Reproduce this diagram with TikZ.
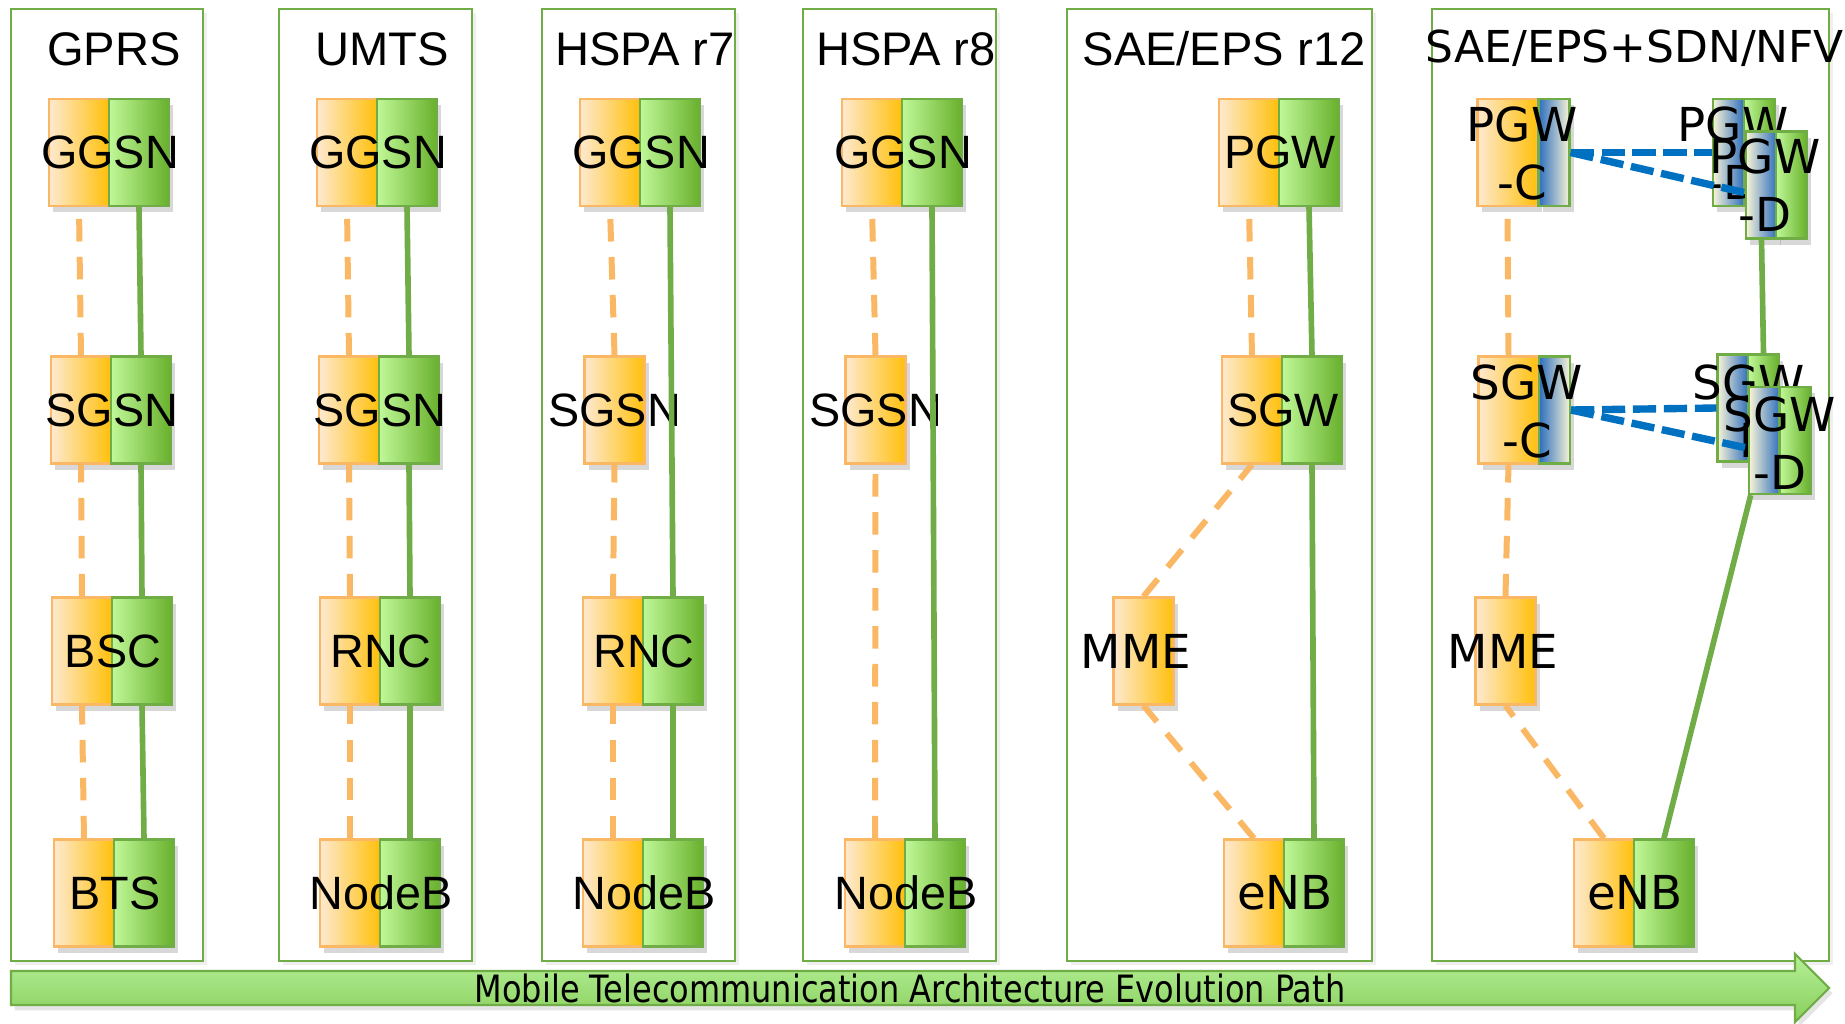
\documentclass[tikz,border=0pt]{standalone}
\usepackage{fontspec}
\setmainfont{Liberation Sans}
\newfontfamily\dvsans{DejaVu Sans}
\newfontfamily\dvnarrow[FakeStretch=0.85]{DejaVu Sans}
\usetikzlibrary{shadows}

\definecolor{frgreen}{RGB}{112,173,71}
\definecolor{orlight}{RGB}{254,233,208}
\definecolor{ordark}{RGB}{255,192,10}
\definecolor{orline}{RGB}{250,184,100}
\definecolor{grlight}{RGB}{192,248,152}
\definecolor{grdark}{RGB}{104,176,44}
\definecolor{sdnblue}{RGB}{46,110,190}
\definecolor{sdncream}{RGB}{248,244,214}
\definecolor{linkblue}{RGB}{0,112,192}
\definecolor{arlight}{RGB}{182,240,152}
\definecolor{ardark}{RGB}{136,206,92}

\begin{document}
\begin{tikzpicture}[x=0.01cm,y=-0.01cm,
  genbox/.style={draw=frgreen,line width=0.6pt,fill=white,drop shadow={shadow xshift=1pt,shadow yshift=-1pt,opacity=0.12}},
  gentitle/.style={font=\fontsize{13.4}{16}\selectfont,inner sep=0,anchor=base},
  half/.style={rectangle,inner sep=0,minimum width=0.6cm,minimum height=1.07cm,line width=0.6pt,drop shadow={shadow xshift=1.2pt,shadow yshift=-1.8pt,opacity=0.3}},
  cbox/.style={half,draw=orline,left color=orlight,right color=ordark},
  ubox/.style={half,draw=frgreen,left color=grlight,right color=grdark},
  sdnc/.style={half,minimum width=0.31cm,draw=frgreen,left color=sdnblue,right color=sdncream},
  sdnd/.style={half,minimum width=0.31cm,draw=frgreen,left color=sdncream,right color=sdnblue},
  sdnu/.style={ubox,minimum width=0.31cm},
  lbl/.style={font=\fontsize{13.3}{16.5}\selectfont,inner sep=0},
  dvlbl/.style={inner sep=0,font=\dvsans\fontsize{13.3}{16.5}\selectfont,align=center},
  cline/.style={draw=orline,line width=1.7pt,dash pattern=on 6.4pt off 4.4pt},
  uline/.style={draw=frgreen,line width=1.6pt},
  sdnline/.style={draw=linkblue,line width=2.1pt,dash pattern=on 6.6pt off 2.2pt}]

  \path[use as bounding box,fill=white] (0,0) rectangle (1845,1024);

  % generation frames
  \draw[genbox] (11,9) rectangle (203,961);
  \draw[genbox] (279,9) rectangle (472,961);
  \draw[genbox] (542,9) rectangle (735,961);
  \draw[genbox] (803,9) rectangle (996,961);
  \draw[genbox] (1067,9) rectangle (1372,961);
  \draw[genbox] (1432,9) rectangle (1829,961);

  \node[gentitle] (tgprs) at (114,65) {GPRS};
  \node[gentitle] (tumts) at (382,65) {UMTS};
  \node[gentitle] (tr7) at (645,65) {HSPA r7};
  \node[gentitle] (tr8) at (906,65) {HSPA r8};
  \node[gentitle] (tr12) at (1224,65) {SAE/EPS r12};
  \node[gentitle,font=\dvsans\fontsize{12.5}{15}\selectfont] (tsdn) at (1635,62) {SAE/EPS+SDN/NFV};

  % GPRS
  \node[cbox] (g1c) at (79,152.5) {};
  \node[ubox] (g1u) at (139,152.5) {};
  \node[lbl] (lg1) at (g1c.east) {GGSN};
  \node[cbox] (s1c) at (81,410) {};
  \node[ubox] (s1u) at (141,410) {};
  \node[lbl] (ls1) at (s1c.east) {SGSN};
  \node[cbox] (b1c) at (82,651) {};
  \node[ubox] (b1u) at (142,651) {};
  \node[lbl] (lb1) at (b1c.east) {BSC};
  \node[cbox] (t1c) at (84,893) {};
  \node[ubox] (t1u) at (144,893) {};
  \node[lbl] (lt1) at (t1c.east) {BTS};

  % UMTS
  \node[cbox] (g2c) at (347,152.5) {};
  \node[ubox] (g2u) at (407,152.5) {};
  \node[lbl] (lg2) at (g2c.east) {GGSN};
  \node[cbox] (s2c) at (349,410) {};
  \node[ubox] (s2u) at (409,410) {};
  \node[lbl] (ls2) at (s2c.east) {SGSN};
  \node[cbox] (r2c) at (350,651) {};
  \node[ubox] (r2u) at (410,651) {};
  \node[lbl] (lr2) at (r2c.east) {RNC};
  \node[cbox] (n2c) at (350,893) {};
  \node[ubox] (n2u) at (410,893) {};
  \node[lbl] (ln2) at (n2c.east) {NodeB};

  % HSPA r7
  \node[cbox] (g3c) at (610,152.5) {};
  \node[ubox] (g3u) at (670,152.5) {};
  \node[lbl] (lg3) at (g3c.east) {GGSN};
  \node[cbox] (s3c) at (614.5,410) {};
  \node[lbl] (ls3) at (s3c) {SGSN};
  \node[cbox] (r3c) at (613,651) {};
  \node[ubox] (r3u) at (673,651) {};
  \node[lbl] (lr3) at (r3c.east) {RNC};
  \node[cbox] (n3c) at (613,893) {};
  \node[ubox] (n3u) at (673,893) {};
  \node[lbl] (ln3) at (n3c.east) {NodeB};

  % HSPA r8
  \node[cbox] (g4c) at (872,152.5) {};
  \node[ubox] (g4u) at (932,152.5) {};
  \node[lbl] (lg4) at (g4c.east) {GGSN};
  \node[cbox] (s4c) at (875.5,410) {};
  \node[lbl] (ls4) at (s4c) {SGSN};
  \node[cbox] (n4c) at (875,893) {};
  \node[ubox] (n4u) at (935,893) {};
  \node[lbl] (ln4) at (n4c.east) {NodeB};

  % SAE/EPS r12
  \node[cbox] (p5c) at (1249,152.5) {};
  \node[ubox] (p5u) at (1309,152.5) {};
  \node[lbl] (lp5) at (p5c.east) {PGW};
  \node[cbox] (w5c) at (1252,410) {};
  \node[ubox] (w5u) at (1312,410) {};
  \node[lbl] (lw5) at (w5c.east) {SGW};
  \node[cbox] (m5c) at (1143.5,651) {};
  \node[dvlbl] (lm5) at (1136,651) {MME};
  \node[cbox] (e5c) at (1254,893) {};
  \node[ubox] (e5u) at (1314,893) {};
  \node[dvlbl] (le5) at (e5c.east) {eNB};

  % SAE/EPS + SDN/NFV
  \node[cbox] (p6c) at (1507.5,152.5) {};
  \node[sdnc] (p6s) at (1554,152.5) {};
  \node[dvlbl] (lp6) at (1522,153) {PGW\\-C};
  \node[cbox] (w6c) at (1508.5,410) {};
  \node[sdnc] (w6s) at (1554.5,410) {};
  \node[dvlbl] (lw6) at (1527,411) {SGW\\-C};
  \node[cbox] (m6c) at (1505.5,651) {};
  \node[dvlbl] (lm6) at (1503,651) {MME};
  \node[cbox] (e6c) at (1604,893) {};
  \node[ubox] (e6u) at (1664,893) {};
  \node[dvlbl] (le6) at (e6c.east) {eNB};

  \node[sdnd] (pd0c) at (1728.5,152.5) {};
  \node[sdnu] (pd0u) at (1759.5,152.5) {};
  \node[dvlbl] (lpd0) at (1733,153) {PGW\\-D};
  \node[sdnd] (pd1c) at (1761.5,185) {};
  \node[sdnu] (pd1u) at (1791.5,185) {};
  \node[dvlbl] (lpd1) at (1765,185.5) {PGW\\-D};

  \node[sdnd] (wd0c) at (1733,408) {};
  \node[sdnu] (wd0u) at (1763.5,408) {};
  \node[dvlbl] (lwd0) at (1749,411) {SGW\\-D};
  \node[sdnd] (wd1c) at (1764.5,440.5) {};
  \node[sdnu] (wd1u) at (1795,440.5) {};
  \node[dvlbl] (lwd1) at (1780,443) {SGW\\-D};

  % control plane
  \path[cline]
    (s1c.north) edge (g1c.south)
    (b1c.north) edge (s1c.south)
    (t1c.north) edge (b1c.south)
    (s2c.north) edge (g2c.south)
    (r2c.north) edge (s2c.south)
    (n2c.north) edge (r2c.south)
    (s3c.north) edge (g3c.south)
    (r3c.north) edge (s3c.south)
    (n3c.north) edge (r3c.south)
    (s4c.north) edge (g4c.south)
    (n4c.north) edge (s4c.south)
    (w5c.north) edge (p5c.south)
    (m5c.north) edge (w5c.south)
    (e5c.north) edge (m5c.south)
    (w6c.north) edge (p6c.south)
    (m6c.north) edge (w6c.south)
    (e6c.north) edge (m6c.south);

  % user plane
  \path[uline]
    (s1u.north) edge (g1u.south)
    (b1u.north) edge (s1u.south)
    (t1u.north) edge (b1u.south)
    (s2u.north) edge (g2u.south)
    (r2u.north) edge (s2u.south)
    (n2u.north) edge (r2u.south)
    (r3u.north) edge (g3u.south)
    (n3u.north) edge (r3u.south)
    (n4u.north) edge (g4u.south)
    (w5u.north) edge (p5u.south)
    (e5u.north) edge (w5u.south)
    (wd0u.north) edge (pd1c.south)
    (e6u.north) edge (wd1c);

  % SDN control
  \path[sdnline]
    (p6s.east) edge (pd0c.west)
    (p6s.east) edge (pd1c.205)
    (w6s.east) edge (wd0c.west)
    (w6s.east) edge (wd1c.205);

  % evolution arrow
  \draw[draw=frgreen,line width=0.6pt,top color=arlight,bottom color=ardark,drop shadow={shadow xshift=1pt,shadow yshift=-1.5pt,opacity=0.2}]
    (11,971) -- (1795,971) -- (1795,954) -- (1829,988) -- (1795,1022) -- (1795,1005) -- (11,1005) -- cycle;
  \node[inner sep=0,font=\dvnarrow\fontsize{10.7}{12}\selectfont] (evo) at (910,988) {Mobile Telecommunication Architecture Evolution Path};

\end{tikzpicture}
\end{document}
